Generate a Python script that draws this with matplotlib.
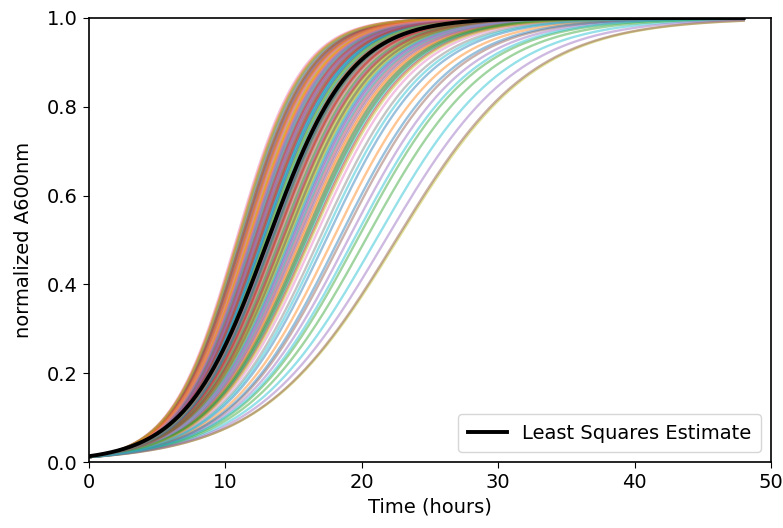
import numpy as np
import matplotlib
matplotlib.use("Agg")
import matplotlib.pyplot as plt

# posterior sample growth rates (1/hour), logistic with carrying capacity 1
rates = [0.352, 0.298, 0.401, 0.337, 0.284, 0.366, 0.319, 0.389, 0.309, 0.347,
         0.412, 0.291, 0.327, 0.372, 0.305, 0.243, 0.358, 0.396, 0.316, 0.281,
         0.344, 0.383, 0.229, 0.334, 0.301, 0.369, 0.407, 0.287, 0.324, 0.355,
         0.259, 0.392, 0.312, 0.341, 0.377, 0.295, 0.417, 0.331, 0.362, 0.214,
         0.303, 0.386, 0.349, 0.279, 0.321, 0.398, 0.338, 0.267, 0.308, 0.374,
         0.355, 0.289, 0.404, 0.328, 0.237, 0.363, 0.297, 0.381, 0.314, 0.346,
         0.409, 0.252, 0.335, 0.371, 0.293, 0.394, 0.325, 0.358, 0.199, 0.306,
         0.379, 0.343, 0.283, 0.318, 0.399, 0.361, 0.273, 0.332, 0.387, 0.299,
         0.351, 0.414, 0.222, 0.329, 0.368, 0.311, 0.391, 0.339, 0.277, 0.356,
         0.246, 0.384, 0.322, 0.403, 0.365, 0.200, 0.302, 0.375, 0.348, 0.263,
         0.336, 0.395, 0.286, 0.359, 0.207, 0.317, 0.381, 0.342, 0.411, 0.232]
sample_y0 = 0.011

# least squares fit
ls_rate = 0.33
ls_y0 = 0.013

t_end = 48.0


def logistic(t, r, y0):
    return 1.0 / (1.0 + (1.0 / y0 - 1.0) * np.exp(-r * t))


t = np.linspace(0, t_end, 300)

plt.rcParams['font.size'] = 14
plt.rcParams['axes.linewidth'] = 1.2
plt.rcParams['xtick.major.size'] = 4.5
plt.rcParams['ytick.major.size'] = 4.5
fig = plt.figure(figsize=(7.83, 5.28), dpi=100)
ax = fig.add_axes([0.1137, 0.125, 0.871, 0.841])

for r in rates:
    ax.plot(t, logistic(t, r, sample_y0), lw=1.7, alpha=0.45)

ax.plot(t, logistic(t, ls_rate, ls_y0), color='black', lw=2.8,
        label='Least Squares Estimate')

ax.set_xlim(0, 50)
ax.set_ylim(0, 1)
ax.set_xlabel('Time (hours)')
ax.set_ylabel('normalized A600nm', labelpad=10)
ax.legend(loc='lower right', borderpad=0.5)

fig.savefig('out.png', dpi=100)
